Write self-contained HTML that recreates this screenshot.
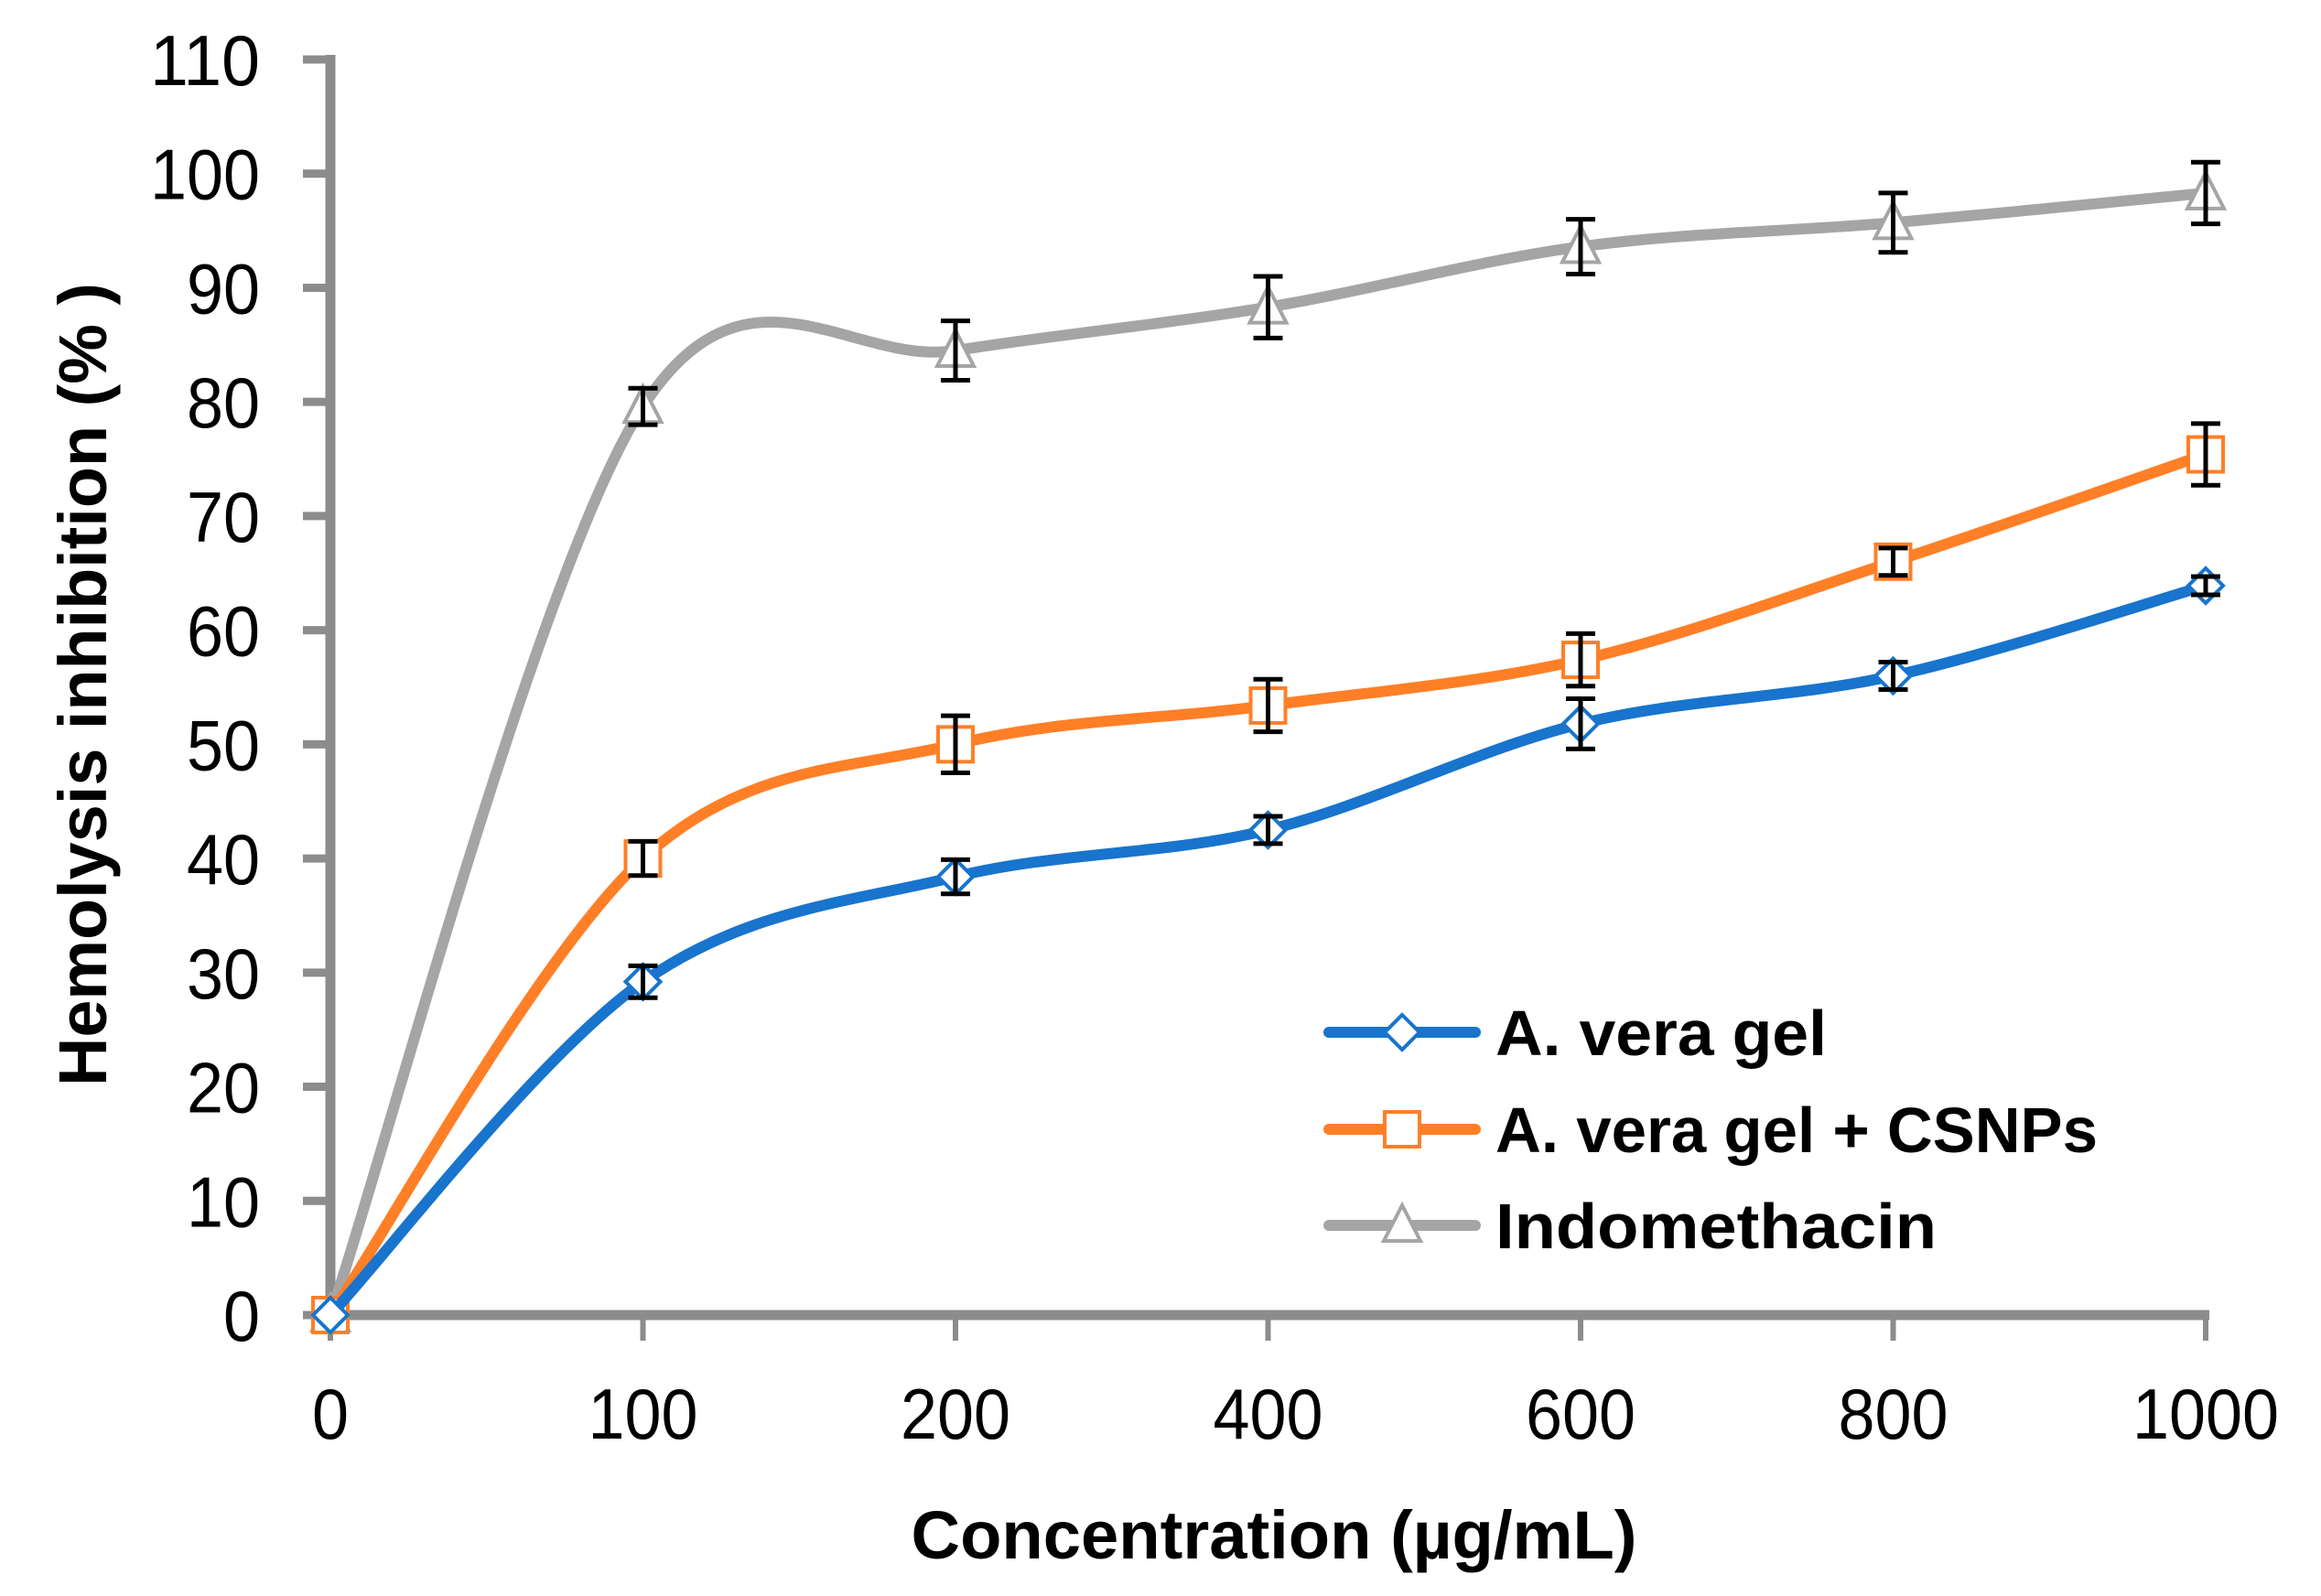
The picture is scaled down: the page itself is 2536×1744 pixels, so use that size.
<!DOCTYPE html>
<html><head><meta charset="utf-8"><style>
html,body{margin:0;padding:0;background:#fff;}
svg{display:block;font-family:"Liberation Sans",sans-serif;}
</style></head><body>
<svg id="chart" width="2536" height="1744" viewBox="0 0 2536 1744">
<g id="axes"></g><g id="series"></g><g id="legend"></g>
</svg>
<script>
const categories = ["0","100","200","400","600","800","1000"];
const yTicks = [0,10,20,30,40,50,60,70,80,90,100,110];
const seriesNames = ["A. vera gel","A. vera gel + CSNPs","Indomethacin"];
const aloeValues = [0,29.2,38.4,42.5,51.8,56,63.9];
const aloeErrors = [0,1.4,1.5,1.2,2.2,1.2,0.8];
const csnpValues = [0,40,50,53.4,57.4,66,75.4];
const csnpErrors = [0,1.5,2.5,2.3,2.3,1.2,2.7];
const indoValues = [0,79.6,84.5,88.3,93.6,95.7,98.3];
const indoErrors = [0,1.6,2.6,2.7,2.4,2.6,2.7];

const NS="http://www.w3.org/2000/svg";
const x0=361, xStep=341.5, yZero=1437, yTop=65, yMax=110;
function xs(i){return x0+i*xStep;}
function ys(v){return yZero-(v/yMax)*(yZero-yTop);}
function mk(tag,attrs,parent,text){const e=document.createElementNS(NS,tag);for(const k in attrs)e.setAttribute(k,attrs[k]);if(text!==undefined)e.textContent=text;parent.appendChild(e);return e;}
const axes=document.getElementById('axes'), ser=document.getElementById('series'), leg=document.getElementById('legend');
const AX="#8c8c8c";

let e=mk('line',{x1:x0,y1:yTop-5,x2:x0,y2:yZero+5,stroke:AX,'stroke-width':11},axes);


yTicks.forEach(v=>{
  let t=mk('line',{x1:x0-30,y1:ys(v),x2:x0,y2:ys(v),stroke:AX,'stroke-width':9},axes);
  
  
  const s=String(v);
  let l=mk('text',{x:284,y:ys(v)+28,'text-anchor':'end','font-size':78,fill:'#000',textLength:40*s.length,lengthAdjust:'spacingAndGlyphs'},axes,s);
  
  
});
e=mk('line',{x1:x0-5,y1:yZero,x2:xs(6)+4,y2:yZero,stroke:AX,'stroke-width':11},axes);


categories.forEach((c,i)=>{
  let t=mk('line',{x1:xs(i),y1:yZero,x2:xs(i),y2:yZero+28,stroke:AX,'stroke-width':6},axes);
  
  
  let l=mk('text',{x:xs(i),y:1572,'text-anchor':'middle','font-size':78,fill:'#000',textLength:40*c.length,lengthAdjust:'spacingAndGlyphs'},axes,c);
  
  
});
e=mk('text',{x:1392,y:1703,'text-anchor':'middle','font-size':74,'font-weight':'bold',fill:'#000',textLength:793,lengthAdjust:'spacingAndGlyphs'},axes,'Concentration (µg/mL)');


e=mk('text',{x:0,y:0,'text-anchor':'middle','font-size':74,'font-weight':'bold',fill:'#000',textLength:878,lengthAdjust:'spacingAndGlyphs',transform:'translate(116,748) rotate(-90)'},axes,'Hemolysis inhibition (% )');



function smoothPath(vals){
  const p=vals.map((v,i)=>[xs(i),ys(v)]);
  let d=`M${p[0][0]},${p[0][1]}`;
  for(let i=0;i<p.length-1;i++){
    const a=p[i-1]||p[i], b=p[i], c=p[i+1], n=p[i+2]||p[i+1];
    const c1=[b[0]+(c[0]-a[0])/6,b[1]+(c[1]-a[1])/6];
    const c2=[c[0]-(n[0]-b[0])/6,c[1]-(n[1]-b[1])/6];
    d+=` C${c1[0]},${c1[1]} ${c2[0]},${c2[1]} ${c[0]},${c[1]}`;
  }
  return d;
}
function marker(kind,cx,cy,color,parent){
  let m;
  if(kind==='diamond') m=mk('polygon',{points:`${cx},${cy-19} ${cx+19},${cy} ${cx},${cy+19} ${cx-19},${cy}`,fill:'#fff',stroke:color,'stroke-width':4},parent);
  else if(kind==='square') m=mk('rect',{x:cx-19,y:cy-19,width:38,height:38,fill:'#fff',stroke:color,'stroke-width':4},parent);
  else m=mk('polygon',{points:`${cx},${cy-22} ${cx+20},${cy+17} ${cx-20},${cy+17}`,fill:'#fff',stroke:color,'stroke-width':4},parent);
  return m;
}
const defs=[
 {name:'aloe',vals:aloeValues,errs:aloeErrors,color:'#1874cd',kind:'diamond'},
 {name:'csnp',vals:csnpValues,errs:csnpErrors,color:'#ff7f27',kind:'square'},
 {name:'indo',vals:indoValues,errs:indoErrors,color:'#a5a5a5',kind:'triangle'}];
[2,1,0].forEach(k=>{
  const s=defs[k];
  const g=mk('g',{},ser);
  
  
  const ln=mk('path',{d:smoothPath(s.vals),fill:'none',stroke:s.color,'stroke-width':12,'stroke-linecap':'round'},g);
  
  
  s.vals.forEach((v,i)=>{
    const m=marker(s.kind,xs(i),ys(v),s.color,g);
    
    
    if(s.errs[i]>0){
      const x=xs(i),y1=ys(v+s.errs[i]),y2=ys(v-s.errs[i]);
      const eb=mk('path',{d:`M${x},${y1}V${y2}M${x-16},${y1}H${x+16}M${x-16},${y2}H${x+16}`,stroke:'#000','stroke-width':5,fill:'none'},g);
      
      
    }
  });
});
const ly=[1128,1234,1339];
defs.forEach((s,k)=>{
  const g=mk('g',{},leg);
  
  
  mk('line',{x1:1452,y1:ly[k],x2:1612,y2:ly[k],stroke:s.color,'stroke-width':12,'stroke-linecap':'round'},g);
  marker(s.kind,1532,ly[k],s.color,g);
  const widths=[362,658,482];
  mk('text',{x:1634,y:ly[k]+25,'font-size':70,'font-weight':'bold',fill:'#000',textLength:widths[k],lengthAdjust:'spacingAndGlyphs'},g,seriesNames[k]);
});
</script>
</body></html>
